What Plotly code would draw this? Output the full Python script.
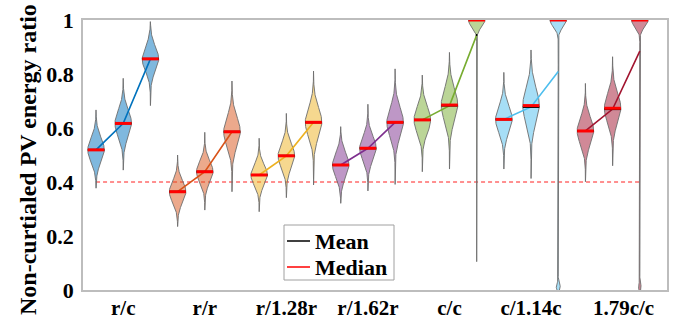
import numpy as np
import plotly.graph_objects as go

# ---------------- data ----------------
groups = ["r/c", "r/r", "r/1.28r", "r/1.62r", "c/c", "c/1.14c", "1.79c/c"]
tick_positions = [2, 5, 8, 11, 14, 17, 20.4]
group_colors = [(0, 114, 189), (217, 83, 25), (237, 177, 32), (126, 47, 142),
                (119, 172, 48), (77, 190, 238), (162, 20, 47)]

# one entry per violin, three violins per group
medians = [0.519, 0.617, 0.856, 0.364, 0.438, 0.586, 0.426, 0.497, 0.621,
           0.463, 0.525, 0.621, 0.630, 0.685, 1.000, 0.632, 0.683, 1.000,
           0.589, 0.673, 1.000]
means = [0.519, 0.617, 0.856, 0.364, 0.438, 0.586, 0.426, 0.497, 0.621,
         0.463, 0.525, 0.621, 0.630, 0.683, 0.944, 0.632, 0.678, 0.809,
         0.589, 0.670, 0.885]
lows = [0.377, 0.444, 0.683, 0.235, 0.296, 0.364, 0.290, 0.342, 0.389,
        0.321, 0.367, 0.391, 0.438, 0.448, 0.105, 0.448, 0.413, 0.000,
        0.401, 0.460, 0.000]
highs = [0.667, 0.784, 0.994, 0.500, 0.584, 0.774, 0.562, 0.654, 0.811,
         0.605, 0.688, 0.819, 0.796, 0.880, 1.000, 0.806, 0.889, 1.000,
         0.765, 0.864, 1.000]
spreads = [0.045, 0.050, 0.045, 0.040, 0.040, 0.055, 0.038, 0.045, 0.055,
           0.045, 0.045, 0.055, 0.050, 0.060, 0.025, 0.050, 0.065, 0.025,
           0.050, 0.055, 0.025]
# relative size of a small cluster of values near zero
zero_cluster = [0, 0, 0, 0, 0, 0, 0, 0, 0, 0, 0, 0, 0, 0, 0, 0, 0, 0.24,
                0, 0, 0.16]
threshold = 0.4

# ---------------- styling ----------------
HALF_W = 0.305
FONT = "'Liberation Serif', 'Times New Roman', serif"
W, H = 674, 320
ML, MR, MT, MB = 83, 7, 20, 30
PW, PH = W - ML - MR, H - MT - MB


def half_width(i, y):
    core = np.exp(-0.5 * ((y - medians[i]) / spreads[i]) ** 2)
    bulb = zero_cluster[i] * np.exp(-0.5 * ((y - 0.012) / 0.012) ** 2)
    return HALF_W * np.maximum(np.maximum(core, bulb), 0.004)


fig = go.Figure()

n = len(medians)
positions = np.arange(1, n + 1)

# threshold line
fig.add_trace(go.Scatter(x=[positions[0], positions[-1]], y=[threshold, threshold],
                         mode="lines", line=dict(color="#FF2020", width=1, dash="4px,3px"),
                         hoverinfo="skip", showlegend=False))

# violins
for i in range(n):
    g = i // 3
    r, gg, b = group_colors[g]
    ys = np.linspace(lows[i], highs[i], 300)
    hw = half_width(i, ys)
    xs = np.concatenate([positions[i] + hw, (positions[i] - hw)[::-1]])
    yy = np.concatenate([ys, ys[::-1]])
    fig.add_trace(go.Scatter(x=xs, y=yy, mode="lines", fill="toself",
                             fillcolor=f"rgba({r},{gg},{b},0.5)",
                             line=dict(color="rgba(110,110,110,0.9)", width=1),
                             hoverinfo="skip", showlegend=False))

# connecting lines through means
for g in range(len(groups)):
    r, gg, b = group_colors[g]
    sl = slice(3 * g, 3 * g + 3)
    fig.add_trace(go.Scatter(x=positions[sl], y=means[sl], mode="lines",
                             line=dict(color=f"rgb({r},{gg},{b})", width=1.6),
                             hoverinfo="skip", showlegend=False))

# mean and median bars
for i in range(n):
    hm = float(half_width(i, np.array(means[i])))
    fig.add_trace(go.Scatter(x=[positions[i] - hm, positions[i] + hm], y=[means[i], means[i]],
                             mode="lines", line=dict(color="black", width=2),
                             hoverinfo="skip", showlegend=False))
for i in range(n):
    hd = float(half_width(i, np.array(medians[i])))
    fig.add_trace(go.Scatter(x=[positions[i] - hd, positions[i] + hd], y=[medians[i], medians[i]],
                             mode="lines", line=dict(color="#FF0000", width=3),
                             hoverinfo="skip", showlegend=False, cliponaxis=False))


def px(xp):
    return (xp - ML) / PW


def py(yp):
    return (H - MB - yp) / PH


# manual legend
shapes = [
    dict(type="rect", xref="paper", yref="paper", x0=px(284), x1=px(394),
         y0=py(280), y1=py(225), line=dict(color="#A0A0A0", width=1), fillcolor="white", layer="above"),
    dict(type="line", xref="paper", yref="paper", x0=px(287), x1=px(310),
         y0=py(241), y1=py(241), line=dict(color="black", width=1.5), layer="above"),
    dict(type="line", xref="paper", yref="paper", x0=px(287), x1=px(310),
         y0=py(267), y1=py(267), line=dict(color="#FF0000", width=1.5), layer="above"),
]
annotations = [
    dict(text="Mean", xref="paper", yref="paper", x=px(313), y=py(241), xanchor="left",
         yanchor="middle", showarrow=False, font=dict(family=FONT, size=22, color="black", weight="bold")),
    dict(text="Median", xref="paper", yref="paper", x=px(313), y=py(267), xanchor="left",
         yanchor="middle", showarrow=False, font=dict(family=FONT, size=22, color="black", weight="bold")),
    dict(text="Non-curtialed PV energy ratio", xref="paper", yref="paper", x=px(28), y=py(160),
         xanchor="center", yanchor="middle", textangle=-90, showarrow=False,
         font=dict(family=FONT, size=24, color="black", weight="bold")),
]

axis_common = dict(showgrid=False, zeroline=False, showline=True, mirror=True,
                   linecolor="#BDBDBD", linewidth=1.5, ticks="")

fig.update_layout(
    width=W, height=H,
    margin=dict(l=ML, r=MR, t=MT, b=MB, autoexpand=False),
    paper_bgcolor="white", plot_bgcolor="white",
    showlegend=False,
    shapes=shapes, annotations=annotations,
    font=dict(family=FONT),
    xaxis=dict(range=[0.52, 22.0], tickvals=tick_positions, ticktext=groups,
               tickfont=dict(family=FONT, size=21, color="black", weight="bold"),
               ticklabelstandoff=-2, **axis_common),
    yaxis=dict(range=[0, 1], tickvals=[0, 0.2, 0.4, 0.6, 0.8, 1],
               ticktext=["0", "0.2", "0.4", "0.6", "0.8", "1"],
               tickfont=dict(family=FONT, size=22, color="black", weight="bold"),
               ticklabelstandoff=3, **axis_common),
)

fig.write_html("out.html")
